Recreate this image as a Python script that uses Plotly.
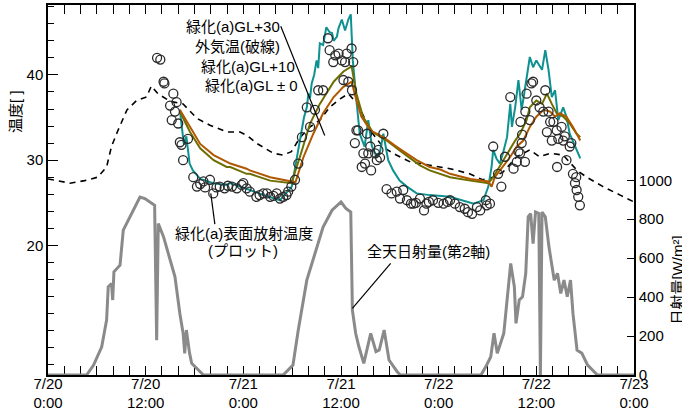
import plotly.graph_objects as go

# ---- data (hours from 7/20 0:00) ----
tick_vals = [0, 12, 24, 36, 48, 60, 72]
tick_text = ["7/20<br>0:00", "7/20<br>12:00", "7/21<br>0:00", "7/21<br>12:00",
             "7/22<br>0:00", "7/22<br>12:00", "7/23<br>0:00"]

air_h = [0, 2.7, 4.5, 6.1, 7.2, 7.8, 8.6, 9.7, 10.9, 12.1, 12.7, 13.5, 15.0, 16.6, 18.3, 19.9,
         22.0, 23.6, 24.6, 25.6, 27.7, 28.9, 29.9, 31.0, 32.2, 33.4, 34.6, 35.9, 36.9, 38.1,
         39.6, 41.2, 42.8, 44.5, 46.9, 49.4, 51.8, 53.4, 54.7, 55.9, 57.6, 59.2, 60.4, 61.7,
         63.3, 65.0, 66.2, 68.2, 70.3, 72.0]
air_t = [27.8, 27.3, 27.6, 28.0, 29.2, 31.6, 33.5, 35.9, 37.0, 37.4, 38.7, 37.8, 36.9, 36.6,
         34.9, 34.1, 33.3, 33.3, 32.8, 32.0, 30.8, 30.6, 31.0, 32.7, 33.9, 34.7, 36.2, 37.2,
         37.8, 36.5, 33.5, 31.5, 30.6, 29.8, 29.4, 29.0, 28.4, 27.7, 28.0, 28.6, 30.4, 31.2,
         30.4, 30.8, 30.6, 28.8, 28.0, 26.9, 25.9, 25.1]

gl30_h = [16.2, 16.45, 16.7, 17.0, 17.4, 17.8, 18.7, 20.3, 21.9, 22.4, 24.4, 24.8, 26.5, 28.5,
          29.95, 30.55, 30.96, 31.17, 31.45, 31.8, 32.0, 32.2, 32.4, 32.7, 33.0, 33.2, 33.4,
          33.8, 34.2, 34.6, 34.9, 35.1, 35.5, 35.7, 36.1, 36.5, 36.9, 37.2, 37.45, 37.9, 38.3,
          38.9, 39.35, 39.8, 40.4, 40.8, 41.2, 41.8, 42.4, 43.2, 44.1, 45.3, 46.9, 49.4, 51.0,
          52.3, 53.5, 54.1, 54.5, 54.7, 55.1, 55.5, 55.9, 56.4, 56.8, 57.0, 57.4, 57.8, 58.2,
          58.8, 59.2, 59.6, 60.0, 60.7, 61.1, 61.5, 61.9, 62.3, 62.7, 63.3, 63.7, 64.1, 64.75,
          65.4]
gl30_t = [35.9, 33.5, 31.8, 32.8, 29.6, 28.8, 27.8, 27.3, 27.1, 27.3, 26.7, 26.5, 25.9, 25.3,
          26.9, 30.0, 32.0, 33.1, 35.0, 36.2, 37.8, 37.3, 39.0, 40.0, 41.7, 40.8, 43.7,
          43.5, 45.6, 45.0, 44.9, 44.0, 44.5, 45.5, 46.5, 45.2, 46.5, 47.1, 41.7, 37.0, 33.1,
          31.6, 34.7, 31.6, 30.4, 31.0, 33.1, 30.0, 28.8, 27.6, 26.9, 26.1, 25.9, 25.7, 25.3,
          24.9, 25.3, 26.9, 29.2, 31.2, 30.2, 29.6, 30.8, 32.7, 36.6, 33.9, 36.2, 39.4, 35.9,
          39.8, 42.1, 40.9, 41.7, 40.6, 42.9, 40.6, 37.4, 38.2, 34.7, 36.2, 35.1, 33.1, 31.6,
          30.2]

gl10_h = [16.2, 17.45, 18.7, 20.35, 21.95, 22.4, 24.4, 24.8, 27.3, 29.9, 30.96, 32.2, 33.4,
          35.1, 36.3, 37.3, 37.9, 38.7, 39.9, 41.6, 43.7, 45.7, 46.9, 48.2, 49.4, 51.9, 54.1,
          54.7, 55.7, 56.8, 57.4, 58.0, 58.8, 59.2, 60.0, 60.7, 61.3, 61.9, 62.5, 63.3, 64.1,
          64.95, 65.4]
gl10_t = [35.7, 33.3, 31.4, 30.0, 29.2, 29.2, 28.4, 28.4, 27.6, 27.3, 30.4, 34.3, 36.6,
          39.2, 40.4, 41.0, 37.8, 35.1, 33.3, 32.3, 30.8, 29.4, 28.8, 28.4, 28.0, 27.6, 27.3,
          28.0, 29.6, 31.2, 32.3, 33.1, 34.7, 36.2, 37.0, 36.6, 37.8, 36.6, 35.5, 35.1, 34.3,
          33.1, 32.7]

gl0_h = [16.2, 17.45, 18.7, 20.35, 21.95, 22.4, 24.4, 24.8, 27.3, 29.9, 30.4, 31.4, 32.6,
         33.8, 35.1, 36.3, 37.3, 37.9, 38.5, 39.6, 41.2, 42.8, 45.3, 46.9, 48.2, 49.4, 51.9,
         54.1, 54.5, 54.9, 55.9, 56.8, 57.6, 58.4, 59.2, 60.0, 60.9, 61.7, 62.3, 62.9, 63.7,
         64.5, 65.4]
gl0_t = [35.9, 33.9, 31.9, 30.6, 29.8, 29.6, 29.0, 28.8, 28.0, 27.5, 27.4, 30.4, 33.1,
         35.5, 37.4, 38.6, 39.2, 37.0, 35.1, 33.5, 32.7, 31.6, 30.0, 29.2, 28.9, 28.4, 27.8,
         27.5, 26.9, 28.0, 29.2, 30.4, 31.6, 32.3, 33.9, 35.1, 35.9, 35.7, 35.1, 35.5, 35.1,
         33.9, 32.3]

surf_h = [13.4, 13.8, 14.2, 14.3, 15.0, 15.2, 15.4, 15.6, 15.8, 16.0, 16.2, 16.4, 16.6, 17.2,
          17.85, 18.3, 18.7, 19.1, 19.3, 19.9, 20.3, 20.7, 21.1, 21.7, 22.1, 22.6, 23.2, 23.8,
          24.0, 24.4, 24.8, 25.6, 26.0, 26.45, 26.9, 27.3, 27.7, 28.1, 28.5, 28.9, 29.3, 29.5,
          29.9, 30.35, 30.75, 31.2, 31.8, 32.2, 32.8, 33.2, 33.8, 34.4, 34.6, 35.05, 35.3,
          35.7, 36.1, 36.3, 36.5, 36.7, 36.9, 37.3, 37.35, 37.5, 37.7, 37.9, 38.1, 38.55,
          38.75, 38.95, 39.2, 39.35, 39.6, 39.7, 40.2, 40.4, 40.6, 40.8, 41.2, 41.6, 42.2,
          42.85, 43.25, 43.65, 44.1, 44.6, 44.9, 45.2, 45.7, 46.2, 46.5, 46.8, 47.3, 47.95,
          48.6, 49.1, 49.4, 50.0, 50.6, 51.2, 51.6, 52.1, 52.7, 53.1, 53.8, 53.9, 54.3, 54.7,
          55.3, 55.7, 56.15, 56.8, 57.2, 57.6, 57.8, 58.0, 58.05, 58.2, 58.25, 58.6, 58.65,
          58.8, 59.2, 59.4, 59.6, 60.0, 60.4, 60.85, 61.1, 61.3, 61.5, 61.7, 61.9, 62.1, 62.5,
          62.55, 62.7, 63.1, 63.3, 63.5, 63.7, 64.1, 64.3, 64.5, 64.75, 64.9, 64.95, 65.15,
          65.35]
surf_t = [42.0, 41.8, 39.2, 39.0, 36.4, 34.7, 37.8, 35.7, 36.8, 34.3, 32.1, 31.8, 30.0, 32.5,
          28.0, 26.9, 27.2, 27.5, 26.8, 27.7, 26.1, 26.8, 26.9, 26.7, 27.0, 26.9, 26.7, 27.1,
          27.3, 26.7, 26.3, 25.7, 25.9, 26.1, 26.1, 25.7, 25.8, 26.1, 25.5, 25.7, 25.9, 26.3,
          26.9, 27.7, 29.6, 32.7, 36.2, 33.9, 35.9, 38.2, 38.2, 44.3, 42.9, 41.5, 42.3,
          42.5, 41.7, 39.4, 41.5, 42.5, 39.2, 43.1, 38.2, 41.5, 32.0, 33.5, 33.5, 29.2,
          30.8, 29.6, 33.1, 30.8, 31.6, 28.8, 30.8, 30.0, 31.2, 30.3, 33.1, 26.6, 26.1,
          26.3, 25.5, 26.5, 25.3, 24.9, 24.9, 25.0, 25.5, 24.1, 24.9, 25.1, 25.3, 25.0,
          24.9, 25.1, 25.3, 24.9, 24.5, 24.3, 23.9, 23.7, 24.5, 24.1, 25.3, 24.7, 24.9, 31.6,
          28.4, 26.9, 30.4, 37.4, 29.0, 29.8, 31.0, 30.8, 34.5, 32.0, 33.0, 29.8, 35.7,
          37.8, 34.7, 39.0, 39.2, 37.0, 36.2, 35.7, 38.2, 33.3, 35.7, 34.5, 32.3, 34.5, 33.5,
          29.2, 32.5, 33.9, 32.3, 32.8, 30.0, 31.6, 32.0, 28.4, 27.3, 28.0, 26.5, 25.7,
          24.7]

rad_h = [0, 4.75, 5.6, 6.6, 7.2, 7.4, 7.8, 7.95, 8.1, 8.85, 9.25, 10.3, 11.3, 11.9, 12.5, 13.1,
         13.35, 13.55, 14.2, 14.8, 15.6, 16.2, 16.6, 16.8, 17.0, 17.4, 17.65, 19.1, 28.9,
         30.1, 30.75, 31.8, 33.0, 33.8, 34.9, 35.7, 36.0, 36.6, 37.2, 37.4, 37.8, 38.2, 38.8,
         39.65, 40.3, 40.7, 41.3, 41.9, 42.9, 43.3, 53.2, 53.8, 54.4, 54.8, 55.2, 56.0, 56.4,
         56.85, 57.3, 57.5, 57.9, 58.3, 58.7, 59.0, 59.3, 59.6, 59.9, 60.3, 60.5, 60.7, 61.1,
         61.55, 62.2, 62.6, 63.0, 63.4, 63.8, 64.2, 64.5, 65.0, 65.6, 66.3, 67.5, 72]
rad_v = [0, 0, 51, 145, 282, 453, 470, 385, 530, 564, 744, 829, 914, 906, 889, 872,
         179, 778, 709, 624, 504, 316, 214, 111, 231, 111, 60, 0, 0,
         51, 231, 487, 658, 760, 846, 880, 889, 855, 837, 333, 214, 145, 60,
         214, 120, 128, 231, 77, 17, 0, 0, 43, 94, 214, 111, 214, 402,
         573, 453, 265, 385, 402, 522, 812, 829, 675, 837, 829, 0, 837, 812,
         658, 487, 522, 419, 487, 402, 487, 316, 128, 111, 51, 0, 0]

FONT = "Liberation Sans, Arial, Noto Sans CJK JP"

fig = go.Figure()
fig.add_trace(go.Scatter(x=rad_h, y=rad_v, yaxis="y2", mode="lines",
                         line=dict(color="#8a8a8a", width=3), showlegend=False))
fig.add_trace(go.Scatter(x=air_h, y=air_t, mode="lines",
                         line=dict(color="black", width=1.6, dash="6px,5px"), showlegend=False))
fig.add_trace(go.Scatter(x=gl30_h, y=gl30_t, mode="lines",
                         line=dict(color="#0e9191", width=2), showlegend=False))
fig.add_trace(go.Scatter(x=gl10_h, y=gl10_t, mode="lines",
                         line=dict(color="#6e6e00", width=2), showlegend=False))
fig.add_trace(go.Scatter(x=gl0_h, y=gl0_t, mode="lines",
                         line=dict(color="#b05800", width=2), showlegend=False))
fig.add_trace(go.Scatter(x=surf_h, y=surf_t, mode="markers",
                         marker=dict(symbol="circle-open", size=9, color="#2a2a2a",
                                     line=dict(width=1.3, color="#2a2a2a")),
                         showlegend=False))

fig.update_layout(
    width=682, height=416,
    margin=dict(l=48, r=48, t=5, b=41, autoexpand=False),
    paper_bgcolor="white", plot_bgcolor="white",
    font=dict(family=FONT, size=15, color="black"),
    xaxis=dict(range=[0, 72], tickmode="array", tickvals=tick_vals, ticktext=tick_text,
               ticks="inside", ticklen=9, tickwidth=1.3, tickcolor="black",
               showline=True, linecolor="black", linewidth=1.5, mirror="allticks",
               showgrid=False, zeroline=False, layer="below traces", automargin=False,
               ticklabelstandoff=-6,
               minor=dict(dtick=2, tick0=0, ticks="inside", ticklen=5, tickwidth=1.2,
                          tickcolor="black", showgrid=False)),
    yaxis=dict(range=[4.8, 48.2], tickmode="array", tickvals=[20, 30, 40],
               ticks="inside", ticklen=10, tickwidth=1.3, tickcolor="black",
               showline=True, linecolor="black", linewidth=1.5, automargin=False,
               showgrid=False, zeroline=False,
               minor=dict(dtick=2, tick0=0, ticks="inside", ticklen=6, tickwidth=1.2,
                          tickcolor="black", showgrid=False)),
    yaxis2=dict(range=[0, 1900], overlaying="y", side="right", tickmode="array",
                tickvals=[0, 200, 400, 600, 800, 1000], automargin=False,
                ticks="inside", ticklen=7, tickwidth=1.3, tickcolor="black",
                showline=True, linecolor="black", linewidth=1.5,
                showgrid=False, zeroline=False),
)

def ann(text, x, y, xanchor="center", yref="y"):
    fig.add_annotation(text=text, x=x, y=y, xref="x", yref=yref, xanchor=xanchor,
                       yanchor="middle", showarrow=False,
                       font=dict(family=FONT, size=15, color="black"))

ann("緑化(a)GL+30", 28.75, 45.65, "right")
ann("外気温(破線)", 28.75, 43.3, "right")
ann("緑化(a)GL+10", 30.6, 41.0, "right")
ann("緑化(a)GL ± 0", 30.96, 38.7, "right")
ann("緑化(a)表面放射温度", 24.1, 21.4)
ann("(プロット)", 24.0, 19.45)
ann("全天日射量(第2軸)", 46.7, 19.27)

fig.add_shape(type="line", xref="x", yref="y", x0=28.6, y0=45.7, x1=34.0, y1=32.9,
              line=dict(color="black", width=1.2))
fig.add_shape(type="line", xref="x", yref="y", x0=20.0, y0=26.1, x1=20.5, y1=22.5,
              line=dict(color="black", width=1.2))
fig.add_shape(type="line", xref="x", yref="y2", x0=37.4, y0=342, x1=42.1, y1=573,
              line=dict(color="black", width=1.2))

fig.add_annotation(text="温度[ ]", xref="paper", yref="paper", x=-0.0546, y=0.711,
                   textangle=-90, showarrow=False, xanchor="center", yanchor="middle",
                   font=dict(family=FONT, size=15, color="black"))
fig.add_annotation(text="日射量[W/m²]", xref="paper", yref="paper", x=1.0745, y=0.257,
                   textangle=-90, showarrow=False, xanchor="center", yanchor="middle",
                   font=dict(family=FONT, size=15, color="black"))

fig.write_html("out.html", config={"displayModeBar": False},
               post_script="document.body.style.margin='0px';document.body.style.overflow='hidden';")
